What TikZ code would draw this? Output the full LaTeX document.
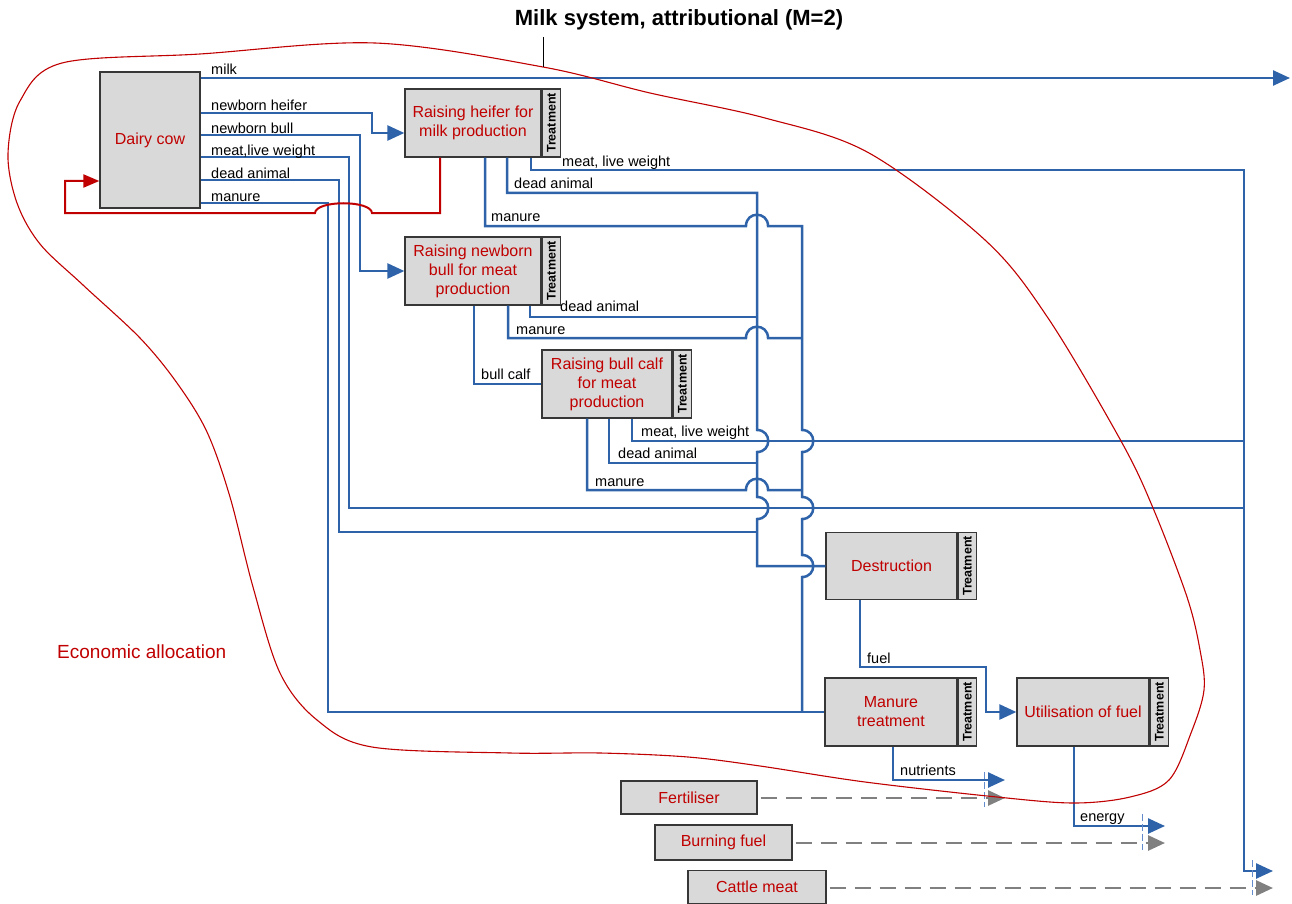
\documentclass[tikz,border=0pt]{standalone}
\usepackage{fontspec}
\setmainfont{Liberation Sans}
\usetikzlibrary{arrows.meta}
\definecolor{flowblue}{RGB}{46,99,170}
\definecolor{allocred}{RGB}{192,0,0}
\definecolor{boxgray}{RGB}{217,217,217}
\definecolor{edgegray}{RGB}{55,55,55}
\definecolor{markblue}{RGB}{100,140,205}
\definecolor{avoidgray}{RGB}{128,128,128}

\begin{document}
\begin{tikzpicture}[x=1pt,y=-1pt,
  proc/.style={draw=edgegray, fill=boxgray, line width=1.3pt, inner sep=0pt,
    align=center, text=allocred, font=\fontsize{16}{19}\selectfont},
  tstrip/.style={draw=edgegray, fill=boxgray, line width=1.3pt, inner sep=0pt,
    minimum width=18pt, anchor=north west, font=\fontsize{12.5}{12.5}\selectfont\bfseries},
  flow/.style={draw=flowblue, line width=2.5pt, line join=miter},
  flowarrow/.style={flow, -{Triangle[length=17pt,width=15pt]}},
  avoided/.style={draw=avoidgray, line width=2.8pt, dash pattern=on 16pt off 9pt,
    shorten <=3pt, -{Triangle[length=17pt,width=15pt]}},
  cutmark/.style={draw=markblue, line width=0.9pt, dash pattern=on 7pt off 3pt},
  feedback/.style={draw=allocred, line width=2pt, -{Triangle[length=16pt,width=13pt]}},
  boundary/.style={draw=allocred, line width=1.1pt},
  lbl/.style={anchor=west, inner sep=0pt, text height=10.5pt, text depth=0pt,
    font=\fontsize{14.5}{17}\selectfont},
  hopup/.style 2 args={insert path={-- (#1-11,#2) .. controls (#1-11,#2-15) and (#1+11,#2-15) .. (#1+11,#2)}},
  hopright/.style 2 args={insert path={-- (#1,#2-11) .. controls (#1+15,#2-11) and (#1+15,#2+11) .. (#1,#2+11)}}
]
\useasboundingbox (0,0) rectangle (1292,904);

% ---------- title ----------
\node[inner sep=0pt, text height=15.75pt, text depth=0pt,
  font=\fontsize{22}{26}\selectfont\bfseries] (title) at (679,18)
  {Milk system, attributional (M=2)};
\coordinate (leadtop) at (543,37);
\coordinate (leadbot) at (543,67);

% ---------- processes ----------
\node[proc, minimum width=100pt, minimum height=136pt] (cow) at (150,140) {Dairy cow};

\node[proc, minimum width=136pt, minimum height=68pt] (heifer) at (473,123)
  {Raising heifer for\\milk production};
\node[tstrip, minimum height=68pt] (heiferT) at (heifer.north east) {\rotatebox{90}{Treatment}};

\node[proc, minimum width=136pt, minimum height=68pt] (nbull) at (473,271)
  {Raising newborn\\bull for meat\\production};
\node[tstrip, minimum height=68pt] (nbullT) at (nbull.north east) {\rotatebox{90}{Treatment}};

\node[proc, minimum width=130pt, minimum height=68pt] (bcalf) at (607,384)
  {Raising bull calf\\for meat\\production};
\node[tstrip, minimum height=68pt] (bcalfT) at (bcalf.north east) {\rotatebox{90}{Treatment}};

\node[proc, minimum width=131pt, minimum height=67pt] (destr) at (891.5,566) {Destruction};
\node[tstrip, minimum height=67pt] (destrT) at (destr.north east) {\rotatebox{90}{Treatment}};

\node[proc, minimum width=132pt, minimum height=68pt] (mtreat) at (891,712) {Manure\\treatment};
\node[tstrip, minimum height=68pt] (mtreatT) at (mtreat.north east) {\rotatebox{90}{Treatment}};

\node[proc, minimum width=132pt, minimum height=68pt] (util) at (1083,712) {Utilisation of fuel};
\node[tstrip, minimum height=68pt] (utilT) at (util.north east) {\rotatebox{90}{Treatment}};

\node[proc, minimum width=136pt, minimum height=33pt] (fert) at (689,797.5) {Fertiliser};
\node[proc, minimum width=137pt, minimum height=35pt] (burn) at (723.5,842.5) {Burning fuel};
\node[proc, minimum width=138pt, minimum height=33pt] (cmeat) at (757,887) {Cattle meat};

% ---------- free ends of the outgoing flows ----------
\coordinate (milkend) at (1290,78);
\coordinate (nutend) at (1005,780);
\coordinate (energyend) at (1165,826);
\coordinate (meatend) at (1273,871);
\coordinate (fertend) at (1005,798);
\coordinate (burnend) at (1165,843);
\coordinate (cmeatend) at (1273,888);

% ---------- flows from the dairy cow ----------
\draw[flowarrow] (cow.east |- 0,78) -- (milkend);
\draw[flowarrow] (cow.east |- 0,113) -- (372,113) -- (372,133) -- (heifer.west |- 0,133);
\draw[flowarrow] (cow.east |- 0,135) -- (360,135) -- (360,271) -- (nbull.west |- 0,271);
\draw[flow] (cow.east |- 0,157) -- (349,157) -- (349,508) -- (1244,508);
\draw[flow] (cow.east |- 0,180) -- (339,180) -- (339,532) -- (757,532);
\draw[flow] (cow.east |- 0,203) -- (328,203) -- (328,712) -- (mtreat.west);

% ---------- meat, live weight ----------
\draw[flowarrow] (531,0 |- heifer.south) -- (531,170) -- (1244,170) -- (1244,871) -- (meatend);
\draw[flow] (632,0 |- bcalf.south) -- (632,441) -- (1244,441);

% ---------- dead animals to destruction ----------
\draw[flow] (507,0 |- heifer.south) -- (507,193) -- (757,193)
  [hopright={757}{441}] [hopright={757}{508}] -- (757,566) -- (destr.west);
\draw[flow] (530,0 |- nbull.south) -- (530,317) -- (757,317);
\draw[flow] (609,0 |- bcalf.south) -- (609,463) -- (757,463);

% ---------- manure to manure treatment ----------
\draw[flow] (485,0 |- heifer.south) -- (485,226) [hopup={757}{226}] -- (802,226)
  [hopright={802}{441}] [hopright={802}{508}] [hopright={802}{566}] -- (802,712);
\draw[flow] (508,0 |- nbull.south) -- (508,338) [hopup={757}{338}] -- (802,338);
\draw[flow] (587,0 |- bcalf.south) -- (587,490) [hopup={757}{490}] -- (802,490);

% ---------- bull calf ----------
\draw[flow] (474,0 |- nbull.south) -- (474,384) -- (bcalf.west |- 0,384);

% ---------- treatment outputs ----------
\draw[flowarrow] (860,0 |- destr.south) -- (860,667) -- (986,667) -- (986,712) -- (util.west);
\draw[flowarrow] (893,0 |- mtreat.south) -- (893,780) -- (nutend);
\draw[flowarrow] (1074,0 |- util.south) -- (1074,826) -- (energyend);

% ---------- avoided products ----------
\draw[avoided] (fert.east |- fertend) -- (fertend);
\draw[avoided] (burn.east |- burnend) -- (burnend);
\draw[avoided] (cmeat.east |- cmeatend) -- (cmeatend);

% ---------- system cut marks ----------
\draw[cutmark] (984,772) -- (984,807);
\draw[cutmark] (1142,814) -- (1142,850);
\draw[cutmark] (1252,860) -- (1252,895);

% ---------- replacement heifers back to the herd ----------
\draw[feedback] (440,0 |- heifer.south) -- (440,213) -- (372,213)
  .. controls (371,200) and (316,200) .. (315,213) -- (65,213) -- (65,181)
  -- (cow.west |- 0,181);

% ---------- flow labels ----------
\node[lbl] (lmilk) at (211,69) {milk};
\node[lbl] (lnh) at (211,105) {newborn heifer};
\node[lbl] (lnb) at (211,128) {newborn bull};
\node[lbl] (lcmeat) at (211,150) {meat,live weight};
\node[lbl] (lcdead) at (211,173) {dead animal};
\node[lbl] (lcman) at (211,196) {manure};
\node[lbl] (lhmeat) at (562,161) {meat, live weight};
\node[lbl] (lhdead) at (514,183) {dead animal};
\node[lbl] (lhman) at (491,216) {manure};
\node[lbl] (lbdead) at (560,306) {dead animal};
\node[lbl] (lbman) at (516,329) {manure};
\node[lbl] (lbcalf) at (481,374) {bull calf};
\node[lbl] (lcmeat2) at (641,431) {meat, live weight};
\node[lbl] (lcdead2) at (618,453) {dead animal};
\node[lbl] (lcman2) at (595,481) {manure};
\node[lbl] (lfuel) at (867,658) {fuel};
\node[lbl] (lnut) at (900,770) {nutrients};
\node[lbl] (lenergy) at (1080,816) {energy};

% ---------- allocation boundary ----------
\draw[boundary] plot[smooth cycle, tension=0.55] coordinates {
  (62,63) (200,54) (375,43) (543,67) (650,93) (765,118) (869,153) (985,240)
  (1048,318) (1121,441) (1153,508) (1187,597) (1200,650) (1204,690) (1191,733)
  (1169,780) (1130,797) (1074,803) (997,797) (865,782) (760,766) (688,757)
  (600,753) (510,753) (372,747) (317,720) (280,673) (253,587) (230,497)
  (207,432) (177,383) (140,338) (83,285) (40,244) (17,203) (8,154) (20,101)};
\draw[line width=0.9pt] (leadtop) -- (leadbot);
\node[anchor=west, inner sep=0pt, text=allocred, text height=13.6pt, text depth=0pt,
  font=\fontsize{19}{22}\selectfont] (alloc) at (57,652) {Economic allocation};

\end{tikzpicture}
\end{document}
